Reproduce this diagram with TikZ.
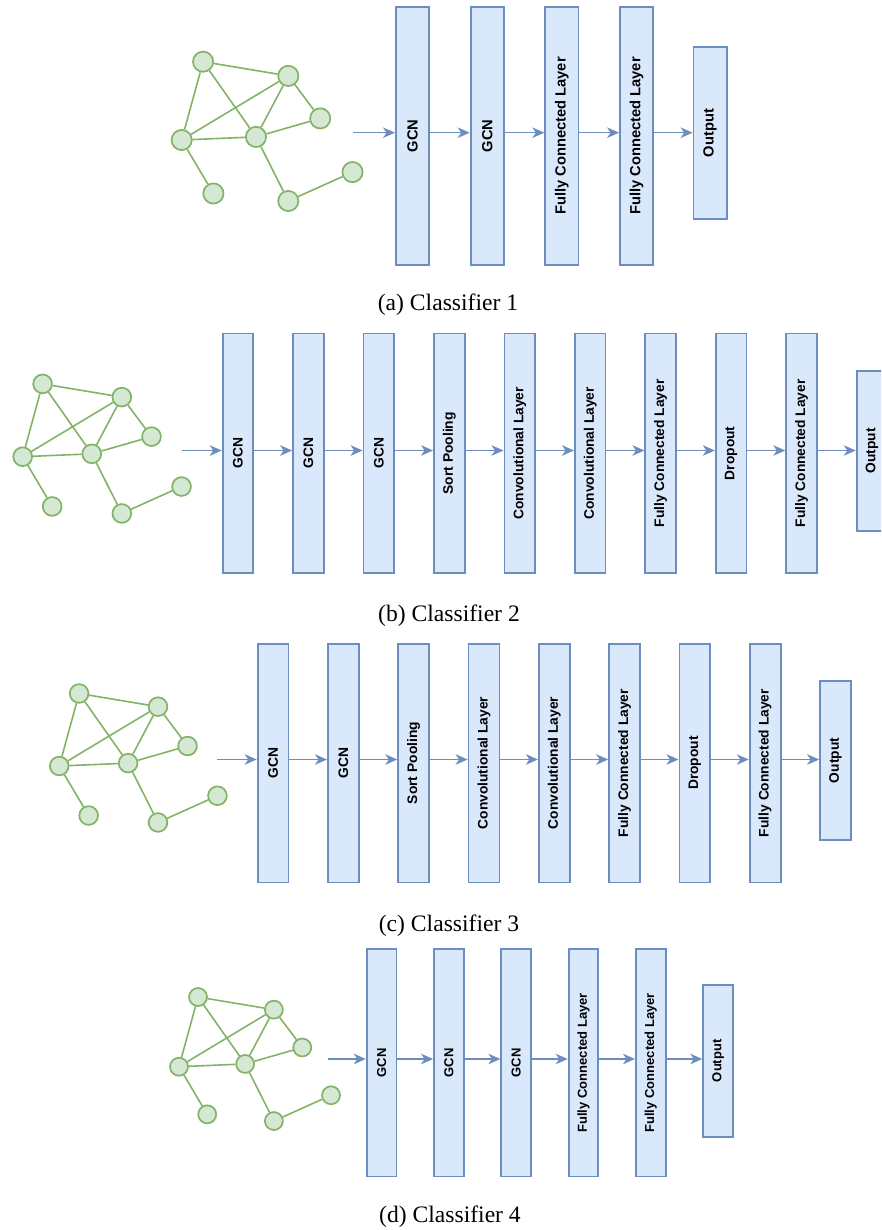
\documentclass[tikz,border=0pt]{standalone}
\usepackage{fontspec}
\setmainfont{Liberation Serif}
\setsansfont{Liberation Sans}
\usepackage{graphicx}
\usetikzlibrary{arrows.meta,positioning}

\definecolor{layerline}{HTML}{6C8EBF}
\definecolor{layerfill}{HTML}{DAE8FC}
\definecolor{nodeline}{HTML}{82B366}
\definecolor{nodefill}{HTML}{D5E8D4}

\tikzset{
  layer/.style={draw=layerline, fill=layerfill, line width=1.8pt, inner sep=0pt},
  gnode/.style={circle, draw=nodeline, fill=nodefill, line width=1.7pt, minimum size=20.2pt, inner sep=0pt},
  gedge/.style={draw=nodeline, line width=1.6pt},
  flow/.style={-{Stealth[length=12pt,width=10.5pt,inset=3.5pt]}, draw=layerline, line width=1.6pt},
  caption/.style={font=\fontsize{23.6}{28}\selectfont, anchor=base},
}

\newcommand{\vlabel}[1]{\rotatebox{90}{#1}}

% input graph: #1 prefix, #2 left node, #3 scale
\newcommand{\inputgraph}[3]{%
  \begin{scope}[shift={#2}, scale=#3, every node/.append style={transform shape}]
    \node[gnode] (#1n1) at (21.4,-78.3) {};
    \node[gnode] (#1n2) at (106.6,-64.1) {};
    \node[gnode] (#1n3) at (138.5,-21.6) {};
    \node[gnode] (#1n4) at (0,0) {};
    \node[gnode] (#1n5) at (74.3,-3.1) {};
    \node[gnode] (#1n6) at (31.7,53.5) {};
    \node[gnode] (#1n7) at (106.6,61) {};
    \node[gnode] (#1n8) at (170.8,32.1) {};
    \draw[gedge] (#1n1) -- (#1n2) (#1n1) -- (#1n4) (#1n1) -- (#1n5)
      (#1n2) -- (#1n4) (#1n2) -- (#1n5) (#1n2) -- (#1n3)
      (#1n4) -- (#1n5) (#1n5) -- (#1n3) (#1n4) -- (#1n6)
      (#1n5) -- (#1n7) (#1n7) -- (#1n8);
  \end{scope}}

\begin{document}
\begin{tikzpicture}[x=1pt, y=-1pt]
  \useasboundingbox (0,0) rectangle (881,1230);
  \clip (0,0) rectangle (881,1230);

  % (a) Classifier 1
  \inputgraph{a}{(181.7,140)}{1}
  \coordinate (ain) at (353,132.7);
  \begin{scope}[layer/.append style={minimum width=33.2pt, minimum height=258.2pt,
      font=\sffamily\bfseries\fontsize{14.7}{16}\selectfont}]
    \node[layer] (a1) at (412.5,136) {\vlabel{GCN}};
    \node[layer, right=39.7pt of a1] (a2) {\vlabel{GCN}};
    \node[layer, right=39.7pt of a2] (a3) {\vlabel{Fully Connected Layer}};
    \node[layer, right=39.7pt of a3] (a4) {\vlabel{Fully Connected Layer}};
    \node[layer, right=38.5pt of a4, yshift=3pt, minimum height=172.2pt] (a5) {\vlabel{Output}};
  \end{scope}
  \draw[flow] (ain) -- (ain -| a1.west);
  \foreach \i/\j in {1/2,2/3,3/4,4/5}
    \draw[flow] (a\i.east |- ain) -- (a\j.west |- ain);
  \node[caption] (capa) at (448,310) {(a) Classifier 1};

  % (b) Classifier 2
  \inputgraph{b}{(22.7,456.7)}{0.93}
  \coordinate (bin) at (181.7,450.5);
  \begin{scope}[layer/.append style={minimum width=30.7pt, minimum height=239.5pt,
      font=\sffamily\bfseries\fontsize{13.8}{15}\selectfont}]
    \node[layer] (b1) at (237.95,453.3) {\vlabel{GCN}};
    \node[layer, right=37.95pt of b1] (b2) {\vlabel{GCN}};
    \node[layer, right=37.95pt of b2] (b3) {\vlabel{GCN}};
    \node[layer, right=37.95pt of b3] (b4) {\vlabel{Sort Pooling}};
    \node[layer, right=37.95pt of b4] (b5) {\vlabel{Convolutional Layer}};
    \node[layer, right=37.95pt of b5] (b6) {\vlabel{Convolutional Layer}};
    \node[layer, right=37.95pt of b6] (b7) {\vlabel{Fully Connected Layer}};
    \node[layer, right=37.95pt of b7] (b8) {\vlabel{Dropout}};
    \node[layer, right=37.95pt of b8] (b9) {\vlabel{Fully Connected Layer}};
    \node[layer, right=37.95pt of b9, yshift=2.5pt, minimum height=159.9pt] (b10) {\vlabel{Output}};
  \end{scope}
  \draw[flow] (bin) -- (bin -| b1.west);
  \foreach \i/\j in {1/2,2/3,3/4,4/5,5/6,6/7,7/8,8/9,9/10}
    \draw[flow] (b\i.east |- bin) -- (b\j.west |- bin);
  \node[caption] (capb) at (449,621) {(b) Classifier 2};

  % (c) Classifier 3
  \inputgraph{c}{(59.3,766)}{0.926}
  \coordinate (cin) at (217.3,759.5);
  \begin{scope}[layer/.append style={minimum width=30.9pt, minimum height=238.8pt,
      font=\sffamily\bfseries\fontsize{13.8}{15}\selectfont}]
    \node[layer] (c1) at (273.05,763) {\vlabel{GCN}};
    \node[layer, right=37.6pt of c1] (c2) {\vlabel{GCN}};
    \node[layer, right=37.6pt of c2] (c3) {\vlabel{Sort Pooling}};
    \node[layer, right=37.6pt of c3] (c4) {\vlabel{Convolutional Layer}};
    \node[layer, right=37.6pt of c4] (c5) {\vlabel{Convolutional Layer}};
    \node[layer, right=37.6pt of c5] (c6) {\vlabel{Fully Connected Layer}};
    \node[layer, right=37.6pt of c6] (c7) {\vlabel{Dropout}};
    \node[layer, right=37.6pt of c7] (c8) {\vlabel{Fully Connected Layer}};
    \node[layer, right=37.6pt of c8, yshift=2.5pt, minimum height=159.2pt] (c9) {\vlabel{Output}};
  \end{scope}
  \draw[flow] (cin) -- (cin -| c1.west);
  \foreach \i/\j in {1/2,2/3,3/4,4/5,5/6,6/7,7/8,8/9}
    \draw[flow] (c\i.east |- cin) -- (c\j.west |- cin);
  \node[caption] (capc) at (449,931.5) {(c) Classifier 3};

  % (d) Classifier 4
  \inputgraph{d}{(179,1066.7)}{0.89}
  \coordinate (din) at (327.5,1059);
  \begin{scope}[layer/.append style={minimum width=29.7pt, minimum height=227.2pt,
      font=\sffamily\bfseries\fontsize{13}{14}\selectfont}]
    \node[layer] (d1) at (381.55,1062.8) {\vlabel{GCN}};
    \node[layer, right=35.8pt of d1] (d2) {\vlabel{GCN}};
    \node[layer, right=35.8pt of d2] (d3) {\vlabel{GCN}};
    \node[layer, right=35.8pt of d3] (d4) {\vlabel{Fully Connected Layer}};
    \node[layer, right=35.8pt of d4] (d5) {\vlabel{Fully Connected Layer}};
    \node[layer, right=35.8pt of d5, yshift=2pt, minimum height=151.9pt] (d6) {\vlabel{Output}};
  \end{scope}
  \draw[flow] (din) -- (din -| d1.west);
  \foreach \i/\j in {1/2,2/3,3/4,4/5,5/6}
    \draw[flow] (d\i.east |- din) -- (d\j.west |- din);
  \node[caption] (capd) at (450,1222.5) {(d) Classifier 4};
\end{tikzpicture}
\end{document}
